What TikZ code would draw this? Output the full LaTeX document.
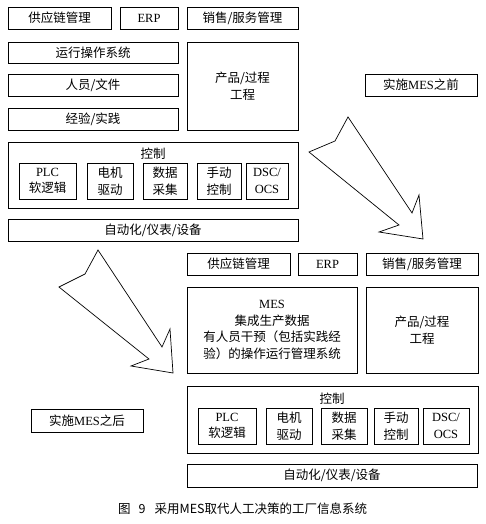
\documentclass[tikz,border=0pt]{standalone}
\usepackage{fontspec}
\setmainfont{Liberation Serif}
\newfontfamily\cjk{Noto Sans CJK SC}
\newcommand{\rmtxt}[1]{{\rmfamily #1}}
\tikzset{
  box/.style={draw, line width=0.8pt, inner sep=0pt, align=center,
    font=\cjk\fontsize{12.5}{16.5}\selectfont},
  lbl/.style={inner sep=0pt, font=\cjk\fontsize{12.5}{16.5}\selectfont},
  bigarrow/.style={draw, line width=0.7pt, line join=miter}
}
% name, x1, y1, x2, y2, text (pixel corners)
\newcommand{\blok}[6]{\node[box, minimum width={#4-#2}, minimum height={#5-#3}] (#1) at ({(#2+#4)/2},{(#3+#5)/2}) {#6};}
\begin{document}
\begin{tikzpicture}[x=1pt,y=-1pt]
\def\arrowbefore{(348,117) -- (412,213) -- (419,195) -- (423,239) -- (379,232) -- (399,225) -- (309,152) -- (335,141) -- cycle}
\def\arrowafter{(98,250) -- (162,347) -- (170,329) -- (173,373) -- (131,366) -- (149,359) -- (59,287) -- (85,274) -- cycle}
\useasboundingbox (0,0) rectangle (486,524);
% before MES
\blok{scmA}{8}{7}{111}{29}{供应链管理}
\blok{erpA}{120}{7}{178}{29}{\rmtxt{ERP}}
\blok{salesA}{187}{7}{298}{29}{销售/服务管理}
\blok{ops}{8}{42}{178}{63}{运行操作系统}
\blok{staff}{8}{74}{178}{96}{人员/文件}
\blok{exper}{8}{108}{178}{130}{经验/实践}
\blok{engA}{187}{42}{298}{130}{产品/过程\\工程}
\blok{ctrlA}{8}{142}{298}{208}{}
\node[lbl] (ctrlAt) at (153,154) {控制};
\blok{plcA}{19}{163}{76}{199}{\rmtxt{PLC}\\软逻辑}
\blok{motA}{87}{163}{133}{199}{电机\\驱动}
\blok{daqA}{143}{163}{187}{199}{数据\\采集}
\blok{manA}{197}{163}{241}{199}{手动\\控制}
\blok{dcsA}{246}{163}{288}{199}{\rmtxt{DSC/}\\\rmtxt{OCS}}
\blok{autoA}{8}{219}{298}{241}{自动化/仪表/设备}
\blok{before}{365}{74}{477}{96}{实施\rmtxt{MES}之前}
\draw[bigarrow] \arrowbefore;
% after MES
\blok{scmB}{187}{253}{290}{275}{供应链管理}
\blok{erpB}{298}{253}{357}{275}{\rmtxt{ERP}}
\blok{salesB}{366}{253}{478}{275}{销售/服务管理}
\blok{mes}{187}{287}{357}{373}{\rmtxt{MES}\\集成生产数据\\有人员干预（包括实践经\\验）的操作运行管理系统}
\blok{engB}{366}{287}{478}{373}{产品/过程\\工程}
\blok{ctrlB}{187}{386}{478}{453}{}
\node[lbl] (ctrlBt) at (332,399) {控制};
\blok{plcB}{198}{408}{256}{444}{\rmtxt{PLC}\\软逻辑}
\blok{motB}{266}{408}{312}{444}{电机\\驱动}
\blok{daqB}{321}{408}{367}{444}{数据\\采集}
\blok{manB}{374}{408}{418}{444}{手动\\控制}
\blok{dcsB}{423}{408}{469}{444}{\rmtxt{DSC/}\\\rmtxt{OCS}}
\blok{autoB}{187}{464}{477}{487}{自动化/仪表/设备}
\blok{after}{31}{409}{143}{432}{实施\rmtxt{MES}之后}
\draw[bigarrow] \arrowafter;
\node[anchor=west, inner sep=0pt, font=\cjk\fontsize{12.5}{14}\selectfont] (caption) at (118,509) {图\hspace{8pt}9\hspace{9pt}采用MES取代人工决策的工厂信息系统};
\end{tikzpicture}
\end{document}
